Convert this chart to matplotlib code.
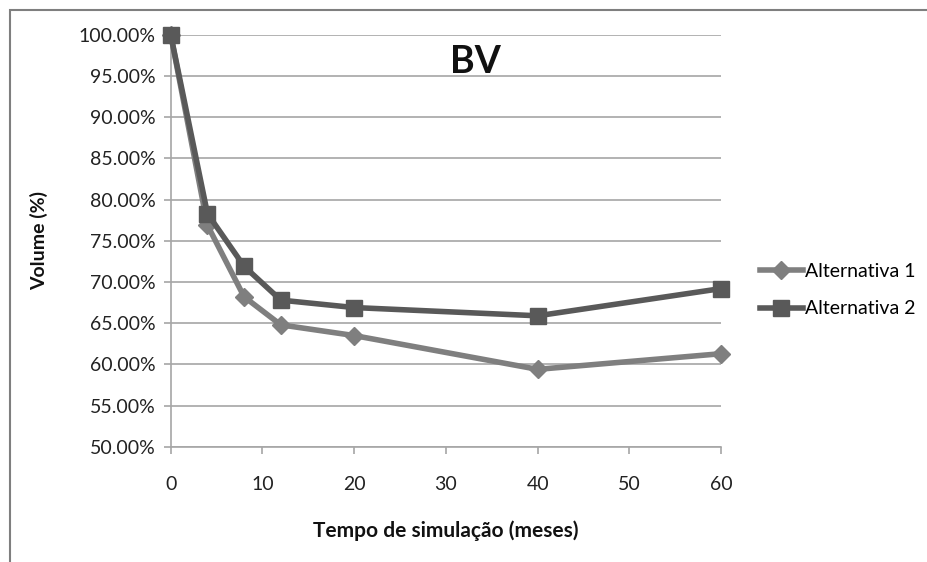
import matplotlib
matplotlib.use('Agg')
import matplotlib.pyplot as plt
from matplotlib.patches import Rectangle
from matplotlib.ticker import FuncFormatter

# Data
meses = [0, 4, 8, 12, 20, 40, 60]
alternativa_1 = [100.0, 76.9, 68.2, 64.8, 63.5, 59.4, 61.3]
alternativa_2 = [100.0, 78.3, 71.9, 67.8, 66.9, 65.9, 69.2]
y_ticks = [50, 55, 60, 65, 70, 75, 80, 85, 90, 95, 100]
x_ticks = [0, 10, 20, 30, 40, 50, 60]

plt.rcParams['font.family'] = ['Lato', 'DejaVu Sans']

fig = plt.figure(figsize=(9.28, 5.62), dpi=100)
ax = fig.add_axes([0.184, 0.205, 0.593, 0.733])

grid_c = '#a6a6a6'
ax.plot(meses, alternativa_1, color='#7f7f7f', lw=4, marker='D', ms=9,
        label='Alternativa 1', zorder=3)
ax.plot(meses, alternativa_2, color='#595959', lw=4, marker='s', ms=12,
        label='Alternativa 2', zorder=4)

ax.set_xlim(0, 60)
ax.set_ylim(50, 100)
ax.set_yticks(y_ticks)
ax.set_xticks(x_ticks)
ax.yaxis.set_major_formatter(FuncFormatter(lambda v, p: f'{v:.2f}%'))
ax.yaxis.grid(True, color=grid_c, lw=1.2)
ax.set_axisbelow(True)
for s in ['top', 'right']:
    ax.spines[s].set_visible(False)
for s in ['left', 'bottom']:
    ax.spines[s].set_color(grid_c)
    ax.spines[s].set_linewidth(1.2)
ax.tick_params(axis='both', colors=grid_c, length=5, width=1.2,
               labelcolor='#222222', labelsize=14)
ax.tick_params(axis='x', pad=16)
ax.tick_params(axis='y', pad=6)
for line in ax.lines:
    line.set_clip_on(False)

ax.set_xlabel('Tempo de simulação (meses)', fontsize=15, fontweight='bold',
              labelpad=20, color='#111111')
ax.set_ylabel('Volume (%)', fontsize=14, fontweight='bold', labelpad=22,
              color='#111111')
ax.text(0.553, 0.975, 'BV', transform=ax.transAxes, fontsize=27,
        fontweight='bold', ha='center', va='top', color='#111111')

ax.legend(loc='center left', bbox_to_anchor=(1.0, 0.38), frameon=False,
          fontsize=14, handlelength=2.2, handletextpad=0.1, labelspacing=1.05,
          borderaxespad=1.6)

fig.patches.append(Rectangle((10 / 928, -0.05), 1.2, 1.05 - 10 / 562,
                             transform=fig.transFigure, fill=False,
                             edgecolor='#7f7f7f', lw=1.5))

fig.savefig('out.png', dpi=100)
